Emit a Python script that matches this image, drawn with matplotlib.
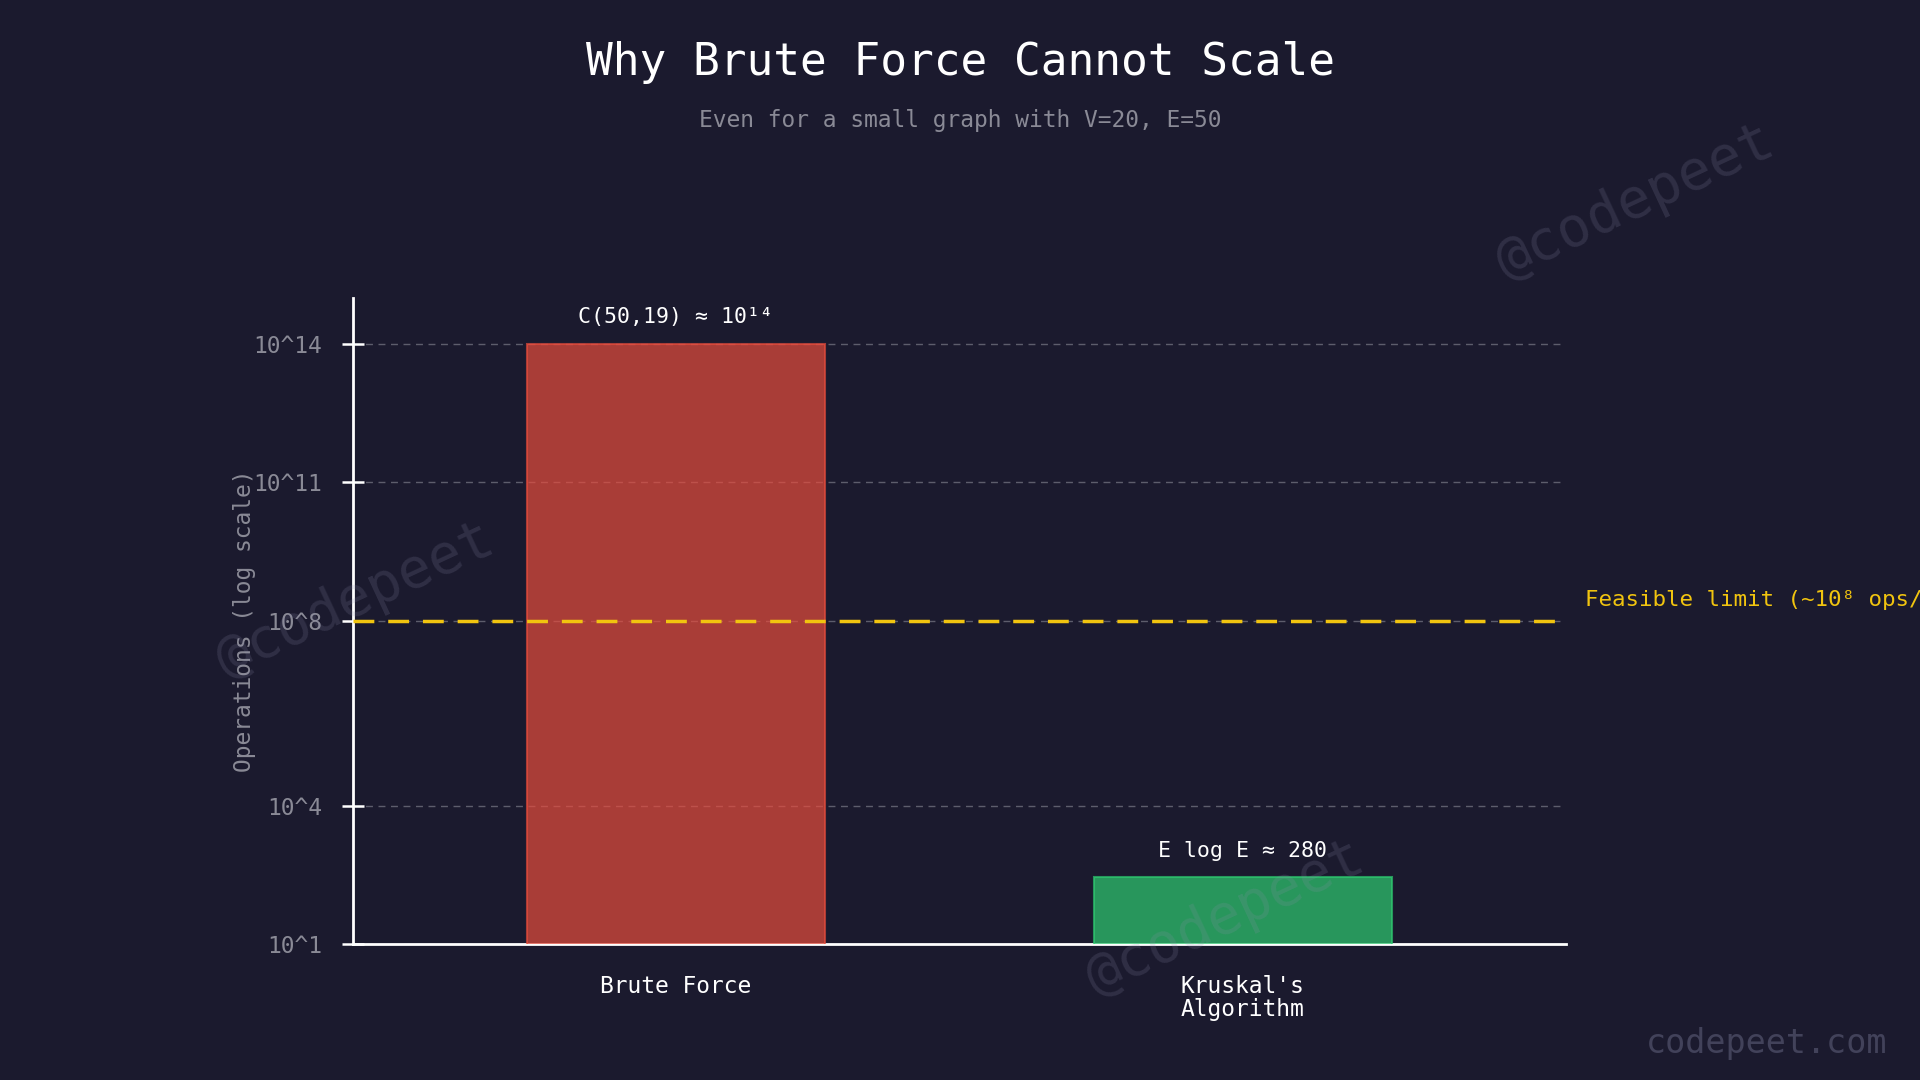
import numpy as np
import matplotlib.pyplot as plt

# Data
algorithms = ["Brute Force", "Kruskal's\nAlgorithm"]
operations = [1e14, 280]
bar_labels = ["C(50,19) ≈ 10¹⁴", "E log E ≈ 280"]
bar_colors = ["#e74c3c", "#2ecc71"]
ytick_values = [1e1, 1e4, 1e8, 1e11, 1e14]
ytick_labels = ["10^1", "10^4", "10^8", "10^11", "10^14"]
feasible_limit = 1e8

BG = "#1b1a2e"
MONO = "DejaVu Sans Mono"

plt.rcParams['font.family'] = MONO

fig = plt.figure(figsize=(19.2, 10.8), dpi=100, facecolor=BG)
ax = fig.add_axes([0.1837, 0.1259, 0.6319, 0.5985], facecolor=BG)

x = np.arange(len(algorithms))
bars = ax.bar(x, operations, width=0.525, color=bar_colors, alpha=0.7,
              edgecolor=bar_colors, linewidth=1.5, zorder=3)
for b in bars:
    b.set_edgecolor(b.get_facecolor()[:3] + (1.0,))

ax.set_yscale("log")
ax.set_ylim(1e1, 1e15)
ax.set_xlim(-0.57, 1.57)

# bar value labels
for xi, val, lab in zip(x, operations, bar_labels):
    ax.annotate(lab, (xi, val), xytext=(0, 12), textcoords="offset points",
                ha="center", va="bottom", color="white", fontsize=15.5)

# feasible limit line
ax.axhline(feasible_limit, color="#f1c40f", linestyle=(0, (6, 4)), linewidth=2.5, zorder=4)
ax.annotate("Feasible limit (~10⁸ ops/sec)", (1.0, feasible_limit),
            xycoords=("axes fraction", "data"), xytext=(14, 8),
            textcoords="offset points", ha="left", va="bottom",
            color="#f1c40f", fontsize=16.2, annotation_clip=False)

# axes styling
ax.set_yticks(ytick_values)
ax.set_yticklabels(ytick_labels)
ax.minorticks_off()
ax.tick_params(axis="y", colors="white", labelcolor="#8a8a96", labelsize=16.5,
               direction="inout", length=16, width=1.8, pad=14)
ax.set_xticks(x)
ax.set_xticklabels(algorithms)
ax.tick_params(axis="x", length=0, labelcolor="white", labelsize=16.5, pad=22)
for lab in ax.get_xticklabels():
    lab.set_linespacing(1.05)

ax.grid(axis="y", color="#8a8a96", linestyle=(0, (5, 4)), linewidth=1, alpha=0.6, zorder=0)
ax.set_axisbelow(True)

for side in ["top", "right"]:
    ax.spines[side].set_visible(False)
for side in ["left", "bottom"]:
    ax.spines[side].set_color("white")
    ax.spines[side].set_linewidth(2)

ax.set_ylabel("Operations (log scale)", color="#8a8a96", fontsize=16.5)
ax.yaxis.set_label_coords(-0.08, 0.5)

# titles
fig.text(0.5, 1 - 63 / 1080, "Why Brute Force Cannot Scale", ha="center", va="center",
         color="white", fontsize=32)
fig.text(0.5, 1 - 120 / 1080, "Even for a small graph with V=20, E=50", ha="center",
         va="center", color="#8a8a96", fontsize=16.5)

# watermarks
for wx, wy in [(1635, 202), (355, 600), (1225, 918)]:
    fig.text(wx / 1920, 1 - wy / 1080, "@codepeet", ha="center", va="center",
             rotation=25, fontsize=40, color="#9090b0", alpha=0.18, zorder=10)
fig.text(1887 / 1920, 1 - 1043 / 1080, "codepeet.com", ha="right", va="center",
         fontsize=24, color="#42425a")

fig.savefig("out.png", dpi=100, facecolor=BG)
